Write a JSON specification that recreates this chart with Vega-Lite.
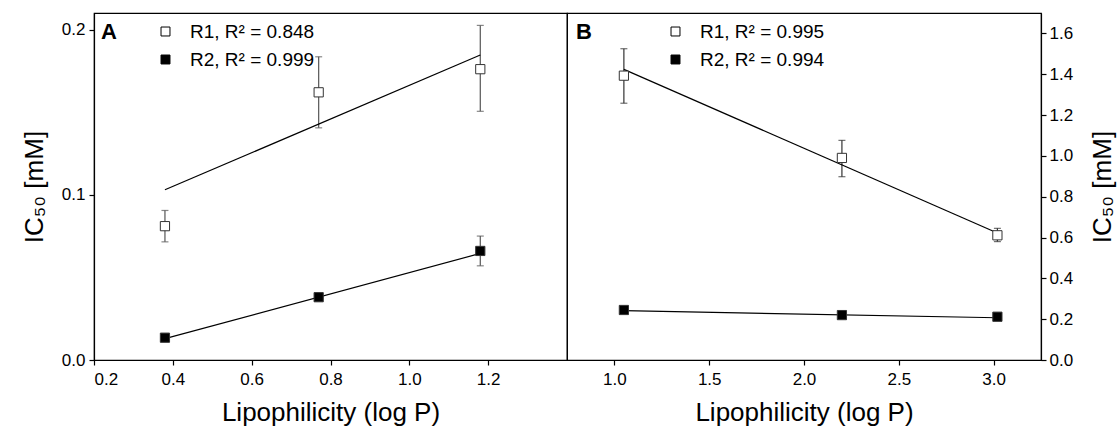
{
  "$schema": "https://vega.github.io/schema/vega-lite/v6.json",
  "padding": {"left": 20, "top": 12, "right": 5, "bottom": 5},
  "spacing": 0,
  "bounds": "flush",
  "config": {
    "font": "Liberation Sans",
    "view": {"stroke": "black", "strokeWidth": 1.2},
    "axis": {
      "grid": false,
      "domainColor": "black", "domainWidth": 1.2,
      "tickColor": "black", "tickWidth": 1.2, "tickSize": 5,
      "labelColor": "black", "labelFontSize": 17, "labelFont": "Liberation Sans",
      "titleColor": "black", "titleFontSize": 26, "titleFontWeight": "normal", "titleFont": "Liberation Sans"
    },
    "legend": {
      "orient": "none",
      "title": null,
      "labelFontSize": 19, "labelFont": "Liberation Sans", "labelColor": "black",
      "symbolType": "square", "symbolSize": 80, "symbolStrokeColor": "black", "symbolStrokeWidth": 1,
      "labelOffset": 15, "rowPadding": 8, "padding": 0
    }
  },
  "datasets": {
    "pointsA": [
      {"x": 0.38, "y": 0.081, "lo": 0.0715, "hi": 0.0905, "series": "R1, R² = 0.848"},
      {"x": 0.77, "y": 0.162, "lo": 0.1405, "hi": 0.1835, "series": "R1, R² = 0.848"},
      {"x": 1.18, "y": 0.176, "lo": 0.1505, "hi": 0.2025, "series": "R1, R² = 0.848"},
      {"x": 0.38, "y": 0.0135, "lo": 0.0125, "hi": 0.0145, "series": "R2, R² = 0.999"},
      {"x": 0.77, "y": 0.038, "lo": 0.037, "hi": 0.039, "series": "R2, R² = 0.999"},
      {"x": 1.18, "y": 0.066, "lo": 0.057, "hi": 0.075, "series": "R2, R² = 0.999"}
    ],
    "fitA": [
      {"x": 0.38, "y": 0.103, "series": "R1"},
      {"x": 1.18, "y": 0.1846, "series": "R1"},
      {"x": 0.38, "y": 0.0129, "series": "R2"},
      {"x": 1.18, "y": 0.0645, "series": "R2"}
    ],
    "pointsB": [
      {"x": 1.05, "y": 1.393, "lo": 1.258, "hi": 1.525, "series": "R1, R² = 0.995"},
      {"x": 2.2, "y": 0.99, "lo": 0.898, "hi": 1.076, "series": "R1, R² = 0.995"},
      {"x": 3.02, "y": 0.611, "lo": 0.58, "hi": 0.645, "series": "R1, R² = 0.995"},
      {"x": 1.05, "y": 0.245, "lo": 0.232, "hi": 0.258, "series": "R2, R² = 0.994"},
      {"x": 2.2, "y": 0.22, "lo": 0.208, "hi": 0.232, "series": "R2, R² = 0.994"},
      {"x": 3.02, "y": 0.212, "lo": 0.204, "hi": 0.22, "series": "R2, R² = 0.994"}
    ],
    "fitB": [
      {"x": 1.05, "y": 1.424, "series": "R1"},
      {"x": 3.02, "y": 0.622, "series": "R1"},
      {"x": 1.05, "y": 0.2415, "series": "R2"},
      {"x": 3.02, "y": 0.207, "series": "R2"}
    ]
  },
  "resolve": {"scale": {"fill": "independent", "x": "independent", "y": "independent"}, "legend": {"fill": "independent"}},
  "hconcat": [
    {
      "width": 473,
      "height": 347,
      "layer": [
        {
          "data": {"name": "pointsA"},
          "mark": {"type": "errorbar", "ticks": {"size": 7, "color": "#555"}, "rule": {"color": "#555"}, "thickness": 1.2},
          "encoding": {
            "x": {"field": "x", "type": "quantitative", "scale": {"domain": [0.2, 1.4], "nice": false, "zero": false},
                  "axis": {"values": [0.2, 0.4, 0.6, 0.8, 1.0, 1.2], "format": ".1f", "title": "Lipophilicity (log P)", "labelPadding": 6, "titlePadding": 12}},
            "y": {"field": "lo", "type": "quantitative", "scale": {"domain": [0, 0.21], "nice": false, "zero": false},
                  "axis": {"values": [0, 0.1, 0.2], "format": ".1f", "title": "IC₅₀ [mM]", "orient": "left", "labelPadding": 4, "titlePadding": 14}},
            "y2": {"field": "hi"}
          }
        },
        {
          "data": {"name": "fitA"},
          "mark": {"type": "line", "color": "black", "strokeWidth": 1.2},
          "encoding": {
            "x": {"field": "x", "type": "quantitative"},
            "y": {"field": "y", "type": "quantitative"},
            "detail": {"field": "series"}
          }
        },
        {
          "data": {"name": "pointsA"},
          "mark": {"type": "point", "shape": "square", "filled": true, "size": 85, "stroke": "#333", "strokeWidth": 1, "opacity": 1},
          "encoding": {
            "x": {"field": "x", "type": "quantitative"},
            "y": {"field": "y", "type": "quantitative"},
            "fill": {"field": "series", "type": "nominal", "scale": {"domain": ["R1, R² = 0.848", "R2, R² = 0.999"], "range": ["white", "black"]},
                     "legend": {"legendX": 62, "legendY": 9}}
          }
        },
        {
          "data": {"values": [{"panel": "A"}]},
          "mark": {"type": "text", "align": "left", "baseline": "top", "dx": 7, "dy": 9, "fontSize": 22, "fontWeight": "bold", "color": "black", "font": "Liberation Sans"},
          "encoding": {
            "x": {"datum": 0.2, "type": "quantitative"},
            "y": {"datum": 0.21, "type": "quantitative"},
            "text": {"field": "panel"}
          }
        }
      ]
    },
    {
      "width": 474,
      "height": 347,
      "layer": [
        {
          "data": {"name": "pointsB"},
          "mark": {"type": "errorbar", "ticks": {"size": 7, "color": "#333"}, "rule": {"color": "#333"}, "thickness": 1.2},
          "encoding": {
            "x": {"field": "x", "type": "quantitative", "scale": {"domain": [0.75, 3.25], "nice": false, "zero": false},
                  "axis": {"values": [1.0, 1.5, 2.0, 2.5, 3.0], "format": ".1f", "title": "Lipophilicity (log P)", "labelPadding": 6, "titlePadding": 12}},
            "y": {"field": "lo", "type": "quantitative", "scale": {"domain": [0, 1.7], "nice": false, "zero": false},
                  "axis": {"values": [0, 0.2, 0.4, 0.6, 0.8, 1.0, 1.2, 1.4, 1.6], "format": ".1f", "title": "IC₅₀ [mM]", "orient": "right", "titleAngle": 270, "titleBaseline": "top", "labelPadding": 3, "titlePadding": 17}},
            "y2": {"field": "hi"}
          }
        },
        {
          "data": {"name": "fitB"},
          "mark": {"type": "line", "color": "black", "strokeWidth": 1.2},
          "encoding": {
            "x": {"field": "x", "type": "quantitative"},
            "y": {"field": "y", "type": "quantitative"},
            "detail": {"field": "series"}
          }
        },
        {
          "data": {"name": "pointsB"},
          "mark": {"type": "point", "shape": "square", "filled": true, "size": 85, "stroke": "#333", "strokeWidth": 1, "opacity": 1},
          "encoding": {
            "x": {"field": "x", "type": "quantitative"},
            "y": {"field": "y", "type": "quantitative"},
            "fill": {"field": "series", "type": "nominal", "scale": {"domain": ["R1, R² = 0.995", "R2, R² = 0.994"], "range": ["white", "black"]},
                     "legend": {"legendX": 99, "legendY": 9}}
          }
        },
        {
          "data": {"values": [{"panel": "B"}]},
          "mark": {"type": "text", "align": "left", "baseline": "top", "dx": 9, "dy": 9, "fontSize": 22, "fontWeight": "bold", "color": "black", "font": "Liberation Sans"},
          "encoding": {
            "x": {"datum": 0.75, "type": "quantitative"},
            "y": {"datum": 1.7, "type": "quantitative"},
            "text": {"field": "panel"}
          }
        }
      ]
    }
  ]
}
